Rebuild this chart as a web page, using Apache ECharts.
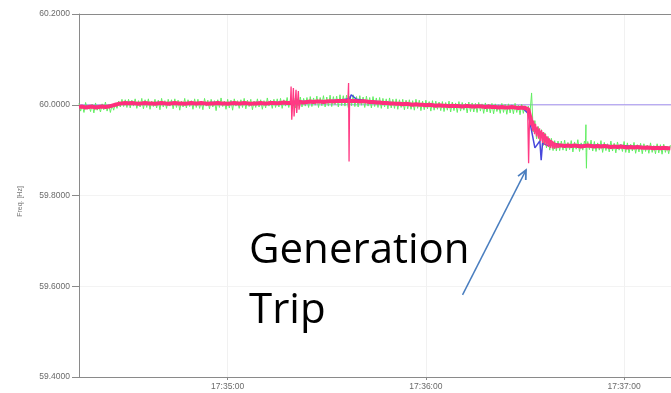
<!DOCTYPE html>
<html><head><meta charset="utf-8">
<script src="https://cdn.jsdelivr.net/npm/echarts@6/dist/echarts.min.js"></script>
<style>html,body{margin:0;padding:0;background:#fff}#c{width:671px;height:393px}</style>
</head><body><div id="c"></div>
<script>
// ---- data (frequency deviations from 60 Hz, in mHz) ----
const startClock = [17, 34, 15];          // first sample time
const endSeconds = 179.2;                  // visible span after start (s)
const yMin = 59.4, yMax = 60.2, yStep = 0.2;
const nominalHz = 60.0;

// pink trace, 1 s apart
const pinkBase = [
 -5,-4,-6,-5,-4,-6,-5,-4,-5,-4,
 -2,0,2,3,4,3,4,3,2,3,
 4,3,3,2,3,4,3,2,3,4,
 3,3,2,3,4,3,3,4,3,2,
 3,3,4,3,3,2,3,4,3,3,
 4,3,2,3,3,4,3,3,4,4,
 3,4,5,4,4,5,5,6,5,6,
 7,6,7,7,6,7,8,7,8,8,
 9,8,9,8,8,7,8,7,6,6,
 5,5,4,4,3,3,2,2,1,2,
 1,0,1,0,0,-1,0,-1,-2,-1,
 -2,-2,-3,-2,-3,-3,-4,-3,-3,-4,
 -4,-3,-4,-5,-4,-5,-5,-6,-5,-6,
 -6,-5,-6,-7,-6,-7,-10,-40,-52,-60,
 -65,-72,-79,-84,-88,-90,-90,-91,-90,-91,
 -90,-91,-92,-91,-90,-91,-92,-91,-92,-91,
 -92,-93,-92,-93,-92,-93,-94,-93,-94,-93,
 -94,-95,-94,-95,-96,-95,-96,-95,-96,-96
];
// thin pink transients: [seconds after start, mHz]
const pinkSpikes = [
 [64.0,4],[64.2,40],[64.4,-33],[64.9,37],[65.1,-26],[65.7,33],[65.9,-18],[66.4,30],[66.6,-11],[67.0,6],
 [81.4,8],[81.6,48],[81.75,-125],[81.9,10],[82.1,9],
 [135.8,-7],[136.1,-129],[136.4,-20],[136.7,-45],[137.0,-25],[137.3,-58],[137.6,-35],[137.9,-65],
 [138.2,-42],[138.5,-70],[138.8,-48],[139.1,-75],[139.4,-52],[139.7,-80],[140.0,-56],[140.3,-84],
 [140.6,-60],[140.9,-88],[141.2,-64],[141.5,-90],[141.8,-70],[142.1,-93],[142.4,-74],[142.7,-95],
 [143.0,-78],[143.3,-96],[143.6,-82],[143.9,-97],[144.2,-85],[144.5,-96],[144.8,-88],[145.1,-95],[145.4,-89]
];
// blue trace, 2 s apart
const blueBase = [
 -3,-4,-3,-4,-3,-1,3,5,5,4,
 5,4,5,4,5,4,4,5,4,4,
 5,5,4,5,4,5,4,5,4,5,
 5,6,6,7,7,8,8,9,9,10,
 11,14,12,10,8,7,6,5,4,3,
 2,2,1,1,0,0,-1,-1,-2,-2,
 -3,-3,-3,-4,-4,-5,-5,-5,-20,-95,
 -118,-90,-86,-88,-89,-88,-89,-90,-89,-90,
 -90,-91,-90,-91,-92,-92,-93,-93,-94,-94
];
const blueSpikes = [[139.5,-80],[139.9,-122],[140.3,-85],[82.4,22]];
// green trace, 0.5 s apart
const greenBase = [
 3,-14,-1,-17,5,-10,-2,-15,1,-18,4,-12,-3,-16,2,-11,6,-14,0,-17,
 -1,-12,4,-8,8,-5,12,-4,11,-6,12,-7,10,-3,13,-8,9,-5,14,-9,
 11,-6,13,-10,8,-4,12,-7,10,-11,14,-5,9,-8,12,-3,11,-9,13,-6,
 10,-12,8,-5,14,-7,11,-4,9,-10,13,-6,12,-8,7,-11,14,-3,10,-9,
 12,-5,9,-13,11,-6,15,-4,8,-10,12,-7,10,-12,13,-3,9,-8,11,-6,
 14,-9,10,-4,12,-11,8,-6,13,-5,11,-10,9,-7,15,-3,10,-8,12,-6,
 13,-5,14,-8,11,-3,16,-6,12,-4,15,-7,13,-2,17,-5,14,-3,16,-6,
 18,-4,15,-1,19,-6,16,-2,20,-5,17,-3,21,-4,18,0,19,-5,22,-2,
 20,-3,21,-6,19,-2,22,-4,18,-5,20,-1,17,-6,19,-3,16,-7,18,-4,
 15,-6,16,-8,14,-5,13,-9,15,-7,12,-8,13,-10,11,-6,12,-11,10,-9,
 11,-10,9,-12,12,-8,10,-13,8,-11,10,-9,7,-14,9,-12,8,-10,6,-13,
 7,-15,5,-12,8,-16,6,-13,4,-17,7,-14,5,-12,3,-18,6,-15,4,-16,
 3,-17,5,-14,2,-19,4,-16,1,-18,3,-20,2,-15,0,-19,3,-17,1,-21,
 2,-18,0,-20,3,-17,-1,-22,1,-19,-2,-16,
 -3,-20,26,-60,-35,-75,-48,-82,-55,-90,-62,-95,-70,-100,-74,-101,-79,-102,-80,-101,
 -80,-100,-78,-102,-83,-99,-79,-104,-82,-98,-77,-103,-84,-100,-80,-105,-81,-99,-78,-102,
 -81,-103,-84,-100,-79,-105,-83,-101,-86,-104,-80,-102,-85,-106,-82,-100,-87,-103,-81,-105,
 -84,-106,-87,-102,-83,-107,-88,-104,-85,-108,-86,-103,-89,-107,-84,-105,-90,-108,-86,-106,
 -88,-109,-87,-105,-91,-108,-89
];
const greenSpikes = [[153.3,-88],[153.45,-44],[153.6,-140],[153.75,-92]];
const axisName = 'Freq. [Hz]';
const noteLines = ['Generation', 'Trip'];
// arrow, in data units: [seconds after start, Hz]
const arrowTail = [116.1, 59.581];
const arrowTip = [135.3, 59.856];

// ---- build ----
const t0 = new Date(2024, 0, 1, startClock[0], startClock[1], startClock[2]).getTime();
const T = s => t0 + s * 1000;
const hz = m => nominalHz + m / 1000;
function fromBase(base, step, extra) {
  const pts = base.map((v, i) => [i * step, v]);
  (extra || []).forEach(p => pts.push(p));
  pts.sort((a, b) => a[0] - b[0]);
  return pts.map(p => [T(p[0]), hz(p[1])]);
}
function spikeSeries(list) {
  const out = [];
  list.forEach((p, i) => {
    if (i > 0 && p[0] - list[i - 1][0] > 1.5) out.push([null, null]);
    out.push([T(p[0]), hz(p[1])]);
  });
  return out;
}
const pad = n => (n < 10 ? '0' : '') + n;
const fmt = v => { const d = new Date(v); return pad(d.getHours()) + ':' + pad(d.getMinutes()) + ':' + pad(d.getSeconds()); };

const chart = echarts.init(document.getElementById('c'), null, { renderer: 'canvas' });
const base = { type: 'line', symbol: 'none', animation: false, silent: true };
chart.setOption({
  animation: false,
  grid: { left: 79, right: 0, top: 14, bottom: 16 },
  xAxis: [{
    type: 'time', min: T(0), max: T(endSeconds),
    minInterval: 60000, maxInterval: 60000,
    axisLine: { lineStyle: { color: '#8a8a8a', width: 1 } },
    axisTick: { show: true, length: 3, lineStyle: { color: '#8a8a8a' } },
    axisLabel: { color: '#6a6a6a', fontSize: 8.5, fontFamily: 'Liberation Sans, Arial', margin: 5, formatter: v => fmt(v), hideOverlap: false },
    splitLine: { show: true, lineStyle: { color: '#f1f1f1', width: 1 } },
    minorTick: { show: false }
  }, {
    type: 'time', position: 'top', min: T(0), max: T(endSeconds),
    axisLine: { show: true, lineStyle: { color: '#8a8a8a' } },
    axisTick: { show: false }, axisLabel: { show: false }, splitLine: { show: false }
  }],
  yAxis: {
    type: 'value', min: yMin, max: yMax, interval: yStep,
    name: axisName, nameLocation: 'middle', nameGap: 55,
    nameTextStyle: { color: '#777', fontSize: 7, fontFamily: 'Liberation Sans, Arial', padding: [0, 0, 0, -12] },
    axisLine: { show: true, lineStyle: { color: '#8a8a8a' } },
    axisTick: { show: true, length: 7, lineStyle: { color: '#8a8a8a' } },
    axisLabel: { color: '#6a6a6a', fontSize: 8.5, fontFamily: 'Liberation Sans, Arial', margin: 9, formatter: v => v.toFixed(4) },
    splitLine: { show: true, lineStyle: { color: '#f3f3f3' } }
  },
  series: [
    Object.assign({}, base, { name: 'ref', data: [[T(0), nominalHz], [T(endSeconds + 1), nominalHz]], lineStyle: { color: '#a291ee', width: 1 }, z: 1 }),
    Object.assign({}, base, { name: 'green', data: fromBase(greenBase, 0.5, greenSpikes), lineStyle: { color: '#62ee62', width: 1 }, z: 2 }),
    Object.assign({}, base, { name: 'blue', data: fromBase(blueBase, 2, blueSpikes), lineStyle: { color: '#4848dc', width: 1.5 }, z: 3 }),
    Object.assign({}, base, { name: 'pink', data: fromBase(pinkBase, 1), lineStyle: { color: '#ff2e7c', width: 4 }, z: 4 }),
    Object.assign({}, base, { name: 'pinkT', data: spikeSeries(pinkSpikes), connectNulls: false, lineStyle: { color: '#ff3a84', width: 1.3 }, z: 5 })
  ]
});

// annotation: text + arrow
const tail = chart.convertToPixel({ xAxisIndex: 0, yAxisIndex: 0 }, [T(arrowTail[0]), arrowTail[1]]);
const tip = chart.convertToPixel({ xAxisIndex: 0, yAxisIndex: 0 }, [T(arrowTip[0]), arrowTip[1]]);
const ang = Math.atan2(tip[1] - tail[1], tip[0] - tail[0]);
const hl = 10, ha = 0.45;
const w1 = [tip[0] - hl * Math.cos(ang - ha), tip[1] - hl * Math.sin(ang - ha)];
const w2 = [tip[0] - hl * Math.cos(ang + ha), tip[1] - hl * Math.sin(ang + ha)];
const textFont = '"Open Sans", Lato, sans-serif';
chart.setOption({
  graphic: [
    { type: 'polyline', shape: { points: [tail, tip] }, style: { stroke: '#4a7ebf', lineWidth: 1.5 }, z: 100 },
    { type: 'polyline', shape: { points: [w1, tip, w2] }, style: { stroke: '#4a7ebf', lineWidth: 1.8, fill: null }, z: 100 },
    { type: 'text', x: 249, y: 251, style: { text: noteLines[0], font: '42px ' + textFont, fill: '#000', verticalAlign: 'middle' }, z: 100 },
    { type: 'text', x: 249, y: 311, style: { text: noteLines[1], font: '42px ' + textFont, fill: '#000', verticalAlign: 'middle' }, z: 100 }
  ]
});
</script>
</body></html>
